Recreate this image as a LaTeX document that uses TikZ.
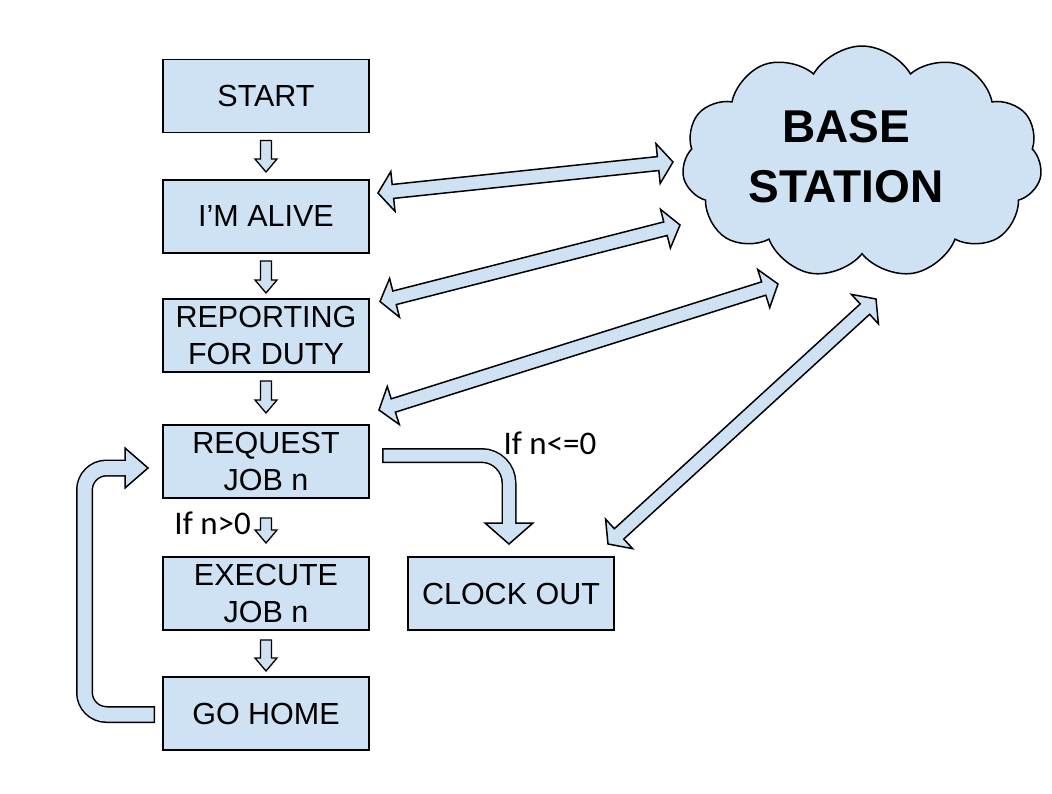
\documentclass[tikz,border=0pt]{standalone}
\usepackage{fontspec}
\setmainfont{Liberation Sans}
\newfontfamily\condfont{Carlito}
\usetikzlibrary{positioning}
\usetikzlibrary{calc}
\usetikzlibrary{shapes.symbols}
\definecolor{boxblue}{HTML}{CFE2F3}

% small block arrow pointing down, from #1 (tail) to #2 (tip)
\newcommand{\smalldown}[2]{%
  \draw[smallarrow] ($(#1)+(-5.5,0)$) -- ($(#2)+(-5.5,-13)$) -- ($(#2)+(-11,-13)$) -- (#2)
    -- ($(#2)+(11,-13)$) -- ($(#2)+(5.5,-13)$) -- ($(#1)+(5.5,0)$) -- cycle;}

% block arrow with a head at both ends
\newcommand{\biarrow}[2]{%
  \coordinate (h1) at ($(#1)!15pt!(#2)$);
  \coordinate (h2) at ($(#2)!15pt!(#1)$);
  \draw[linkarrow] (#1) -- ($(h1)!20pt!90:(#2)$) -- ($(h1)!7pt!90:(#2)$)
    -- ($(h2)!7pt!-90:(#1)$) -- ($(h2)!20pt!-90:(#1)$) -- (#2)
    -- ($(h2)!20pt!90:(#1)$) -- ($(h2)!7pt!90:(#1)$)
    -- ($(h1)!7pt!-90:(#2)$) -- ($(h1)!20pt!-90:(#2)$) -- cycle;}

\begin{document}
\begin{tikzpicture}[x=1pt, y=-1pt,
        node distance=47pt and 39pt,
        box/.style={draw, fill=boxblue, line width=1.5pt, minimum width=206pt, minimum height=73pt, inner sep=0pt, outer sep=0pt, align=center, font=\fontsize{30.5}{37}\selectfont},
        cond/.style={inner sep=0pt, font=\condfont\fontsize{33}{38}\selectfont},
        smallarrow/.style={draw, fill=boxblue, line width=1.3pt, line join=miter},
        linkarrow/.style={draw, fill=boxblue, line width=1.5pt, line join=miter},
        tubeborder/.style={draw=black, line cap=butt},
        tubefill/.style={draw=boxblue, line cap=butt},
        tubehead/.style={draw, fill=boxblue, line width=1.5pt, line join=miter},
    ]
    \useasboundingbox (0,0) rectangle (1052,793);

    \node[box] (start) at (266,96) {START};
    \node[box, below=47.5pt of start] (alive) {I’M ALIVE};
    \node[box, below=46pt of alive] (report) {REPORTING\\FOR DUTY};
    \node[box, below=53pt of report] (request) {REQUEST\\JOB n};
    \node[box, below=59pt of request] (execute) {EXECUTE\\JOB n};
    \node[box, below=47pt of execute] (gohome) {GO HOME};
    \node[box, right=39pt of execute] (clockout) {CLOCK OUT};

    \node[cloud, draw, fill=boxblue, line width=1.5pt, cloud puffs=11, cloud puff arc=120, cloud ignores aspect,
          minimum width=360pt, minimum height=232pt, inner sep=0pt] (base) at (862,162) {};
    \node[align=center, font=\bfseries\fontsize{46}{60}\selectfont] (basetext) at ($(base.center)+(-16,-5)$) {BASE\\STATION};

    % steps down the chain
    \coordinate[below=8pt of start] (s1);
    \coordinate[above=8pt of alive] (s2);
    \coordinate[below=8pt of alive] (s3);
    \coordinate[above=6pt of report] (s4);
    \coordinate[below=9pt of report] (s5);
    \coordinate[above=12pt of request] (s6);
    \coordinate[below=20pt of request] (s7);
    \coordinate[above=14pt of execute] (s8);
    \coordinate[below=10pt of execute] (s9);
    \coordinate[above=6pt of gohome] (s10);
    \smalldown{s1}{s2}
    \smalldown{s3}{s4}
    \smalldown{s5}{s6}
    \smalldown{s7}{s8}
    \smalldown{s9}{s10}

    \node[cond, anchor=east] (ifpos) at ($(s7)!0.5!(s8)+(-15,-7)$) {If n>0};
    \node[cond] (ifneg) at (550,443) {If n<=0};

    % links to the base station
    \coordinate (a1) at ($(alive.east)+(9,-23.5)$);
    \coordinate (b1) at ($(base.center)+(-189,0)$);
    \coordinate (a2) at ($(report.north east)+(11,2.5)$);
    \coordinate (b2) at ($(base.center)+(-182,63)$);
    \coordinate (a3) at ($(request.north east)+(10,-15)$);
    \coordinate (b3) at ($(base.center)+(-84,122)$);
    \coordinate (a4) at ($(clockout.north east)+(-6,-13)$);
    \coordinate (b4) at ($(base.center)+(14,137)$);
    \biarrow{a1}{b1}
    \biarrow{a2}{b2}
    \biarrow{a3}{b3}
    \biarrow{a4}{b4}

    % loop back from GO HOME
    \coordinate (loopstart) at ($(gohome.west)+(-8,1)$);
    \coordinate (looptip) at ($(request.west)+(-15,6.5)$);
    \draw[tubeborder, line width=17pt, rounded corners=22pt] (loopstart) -- ++(-70.5,0) |- ($(looptip)+(-23,0)$);
    \draw[tubehead] (looptip) -- ++(-23,-20) -- ++(0,40) -- cycle;
    \draw[tubefill, line width=14pt, rounded corners=22pt, shorten <=1.5pt] (loopstart) -- ++(-70.5,0) |- ($(looptip)+(-22,0)$);

    % turn down to CLOCK OUT
    \coordinate (ustart) at ($(request.east)+(13,-6)$);
    \coordinate (utip) at ($(clockout.north)+(-2,-13)$);
    \draw[tubeborder, line width=15pt, rounded corners=27.5pt] (ustart) -| ($(utip)+(0,-21)$);
    \draw[tubehead] (utip) -- ++(-24,-21) -- ++(48,0) -- cycle;
    \draw[tubefill, line width=12pt, rounded corners=27.5pt, shorten <=1.5pt] (ustart) -| ($(utip)+(0,-20)$);
\end{tikzpicture}
\end{document}
